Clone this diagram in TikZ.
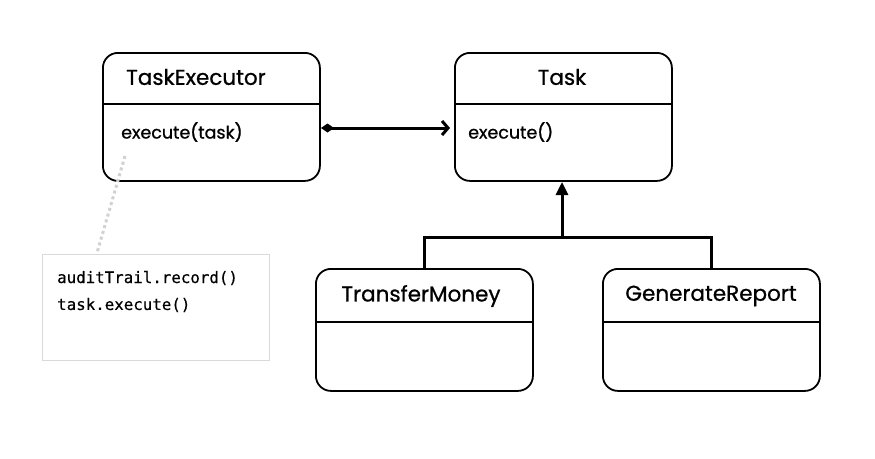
\documentclass[tikz,border=0pt]{standalone}
\usepackage{fontspec}
\setmainfont{Poppins}
\newfontfamily\titlefont{Poppins}[FakeBold=0.8]
\newfontfamily\codefont{DejaVu Sans Mono}[FakeBold=0.4]
\usetikzlibrary{arrows.meta}
\begin{document}
\begin{tikzpicture}[x=1pt,y=-1pt,
  classbox/.style={draw, line width=1.8pt, rounded corners=15pt, minimum width=217pt, anchor=north west, inner sep=0pt},
  divider/.style={line width=1.8pt},
  title/.style={font=\titlefont\fontsize{21.5}{24}\selectfont, inner sep=0pt},
  method/.style={font=\titlefont\fontsize{17.5}{20}\selectfont, inner sep=0pt, anchor=west},
  notebox/.style={draw=black!15, line width=1.2pt, anchor=north west, minimum width=227pt, minimum height=106pt, inner sep=0pt},
  code/.style={font=\codefont\fontsize{15.8}{18}\selectfont, inner sep=0pt, anchor=west},
  conn/.style={line width=3pt},
]
\useasboundingbox (0,0) rectangle (875,458);
% class boxes
\node[classbox, minimum height=128pt] (te) at (102,52) {};
\node[classbox, minimum height=128pt] (task) at (454,52) {};
\node[classbox, minimum height=122pt] (tm) at (315,268) {};
\node[classbox, minimum height=122pt] (gr) at (602,268) {};
% dividers
\draw[divider] (102,104) -- (319,104);
\draw[divider] (454,104) -- (671,104);
\draw[divider] (315,322) -- (532,322);
\draw[divider] (602,322) -- (819,322);
% titles
\node[title, anchor=west] (teT) at (126,77) {TaskExecutor};
\node[title] (taskT) at (562,77) {Task};
\node[title] (tmT) at (421,296) {TransferMoney};
\node[title] (grT) at (711,296) {GenerateReport};
% methods
\node[method] (teM) at (121,132) {execute(task)};
\node[method] (taskM) at (468,132) {execute()};
% note
\node[notebox] (note) at (42,254) {};
\node[code] (c1) at (57,278) {auditTrail.record()};
\node[code] (c2) at (57,305) {task.execute()};
\coordinate (dotA) at (125,156);
\coordinate (dotB) at (97,253);
\draw[black!18, line width=3pt, dash pattern=on 3pt off 3pt] (dotA) -- (dotB);
% composition
\coordinate (compA) at (321,128);
\coordinate (compB) at (450,128);
\draw[conn, {Diamond[length=13pt,width=9pt,line width=0pt]}-{Straight Barb[length=6pt,width=14pt,line width=3pt]}] (compA) -- (compB);
% inheritance
\coordinate (junc) at (562,237);
\draw[conn, -{Triangle[length=13pt,width=12pt]}] (junc) -- (562,182);
\draw[conn, line join=miter] (tm.north -| 424,0) |- (junc) -| (gr.north -| 711,0);
\end{tikzpicture}
\end{document}
